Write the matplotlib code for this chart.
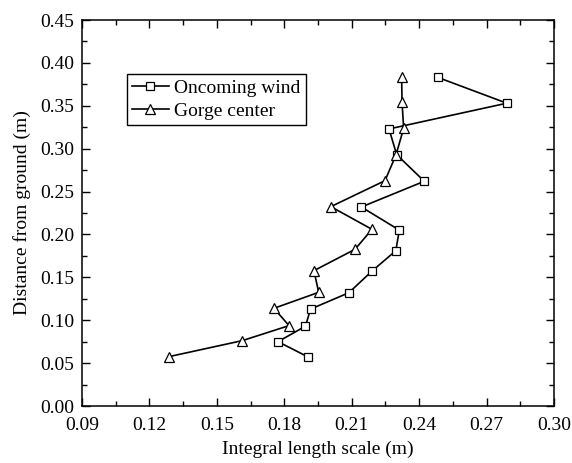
import matplotlib
matplotlib.use("Agg")
import matplotlib.pyplot as plt
from matplotlib.ticker import MultipleLocator

plt.rcParams['font.family'] = ['Liberation Serif', 'DejaVu Serif']
plt.rcParams['mathtext.fontset'] = 'stix'

oncoming_y = [0.057, 0.075, 0.093, 0.113, 0.132, 0.157, 0.181, 0.205, 0.232, 0.262, 0.293, 0.323, 0.353, 0.383]
oncoming_x = [0.1907, 0.1772, 0.1894, 0.1917, 0.2087, 0.2189, 0.2296, 0.2312, 0.2143, 0.2423, 0.2300, 0.2266, 0.2790, 0.2484]

gorge_y = [0.0575, 0.0762, 0.0937, 0.1139, 0.1325, 0.1578, 0.1827, 0.2060, 0.2324, 0.2627, 0.2926, 0.3237, 0.3540, 0.3840]
gorge_x = [0.1286, 0.1613, 0.1821, 0.1754, 0.1953, 0.1932, 0.2115, 0.2190, 0.2007, 0.2248, 0.2297, 0.2331, 0.2324, 0.2322]

xlabel = "Integral length scale (m)"
ylabel = "Distance from ground (m)"
labels = ["Oncoming wind", "Gorge center"]

fig = plt.figure(figsize=(5.72, 4.63), dpi=100)
ax = fig.add_axes([0.1434, 0.1231, 0.8251, 0.8337])

ax.plot(oncoming_x, oncoming_y, color='black', lw=1.2, marker='s', ms=5.5,
        mfc='white', mec='black', mew=0.9, label=labels[0])
ax.plot(gorge_x, gorge_y, color='black', lw=1.2, marker='^', ms=7,
        mfc='white', mec='black', mew=0.9, label=labels[1])

ax.set_xlim(0.09, 0.30)
ax.set_ylim(0.0, 0.45)
ax.xaxis.set_major_locator(MultipleLocator(0.03))
ax.xaxis.set_minor_locator(MultipleLocator(0.015))
ax.yaxis.set_major_locator(MultipleLocator(0.05))
ax.yaxis.set_minor_locator(MultipleLocator(0.025))
ax.xaxis.set_major_formatter(plt.FormatStrFormatter('%.2f'))
ax.yaxis.set_major_formatter(plt.FormatStrFormatter('%.2f'))

ax.tick_params(which='both', direction='in', top=True, right=True, labelsize=14, width=1)
ax.tick_params(which='major', length=6)
ax.tick_params(which='minor', length=3.5)
ax.tick_params(axis='x', which='major', pad=8)
ax.tick_params(axis='y', which='major', pad=5.5)
for s in ax.spines.values():
    s.set_linewidth(1.1)

ax.set_xlabel(xlabel, fontsize=14, labelpad=5)
ax.set_ylabel(ylabel, fontsize=14, labelpad=7)

leg = ax.legend(loc='upper left', bbox_to_anchor=(0.0947, 0.860), fontsize=14,
                frameon=True, fancybox=False, edgecolor='black', framealpha=1,
                handlelength=1.9, handletextpad=0.3, borderpad=0.25,
                labelspacing=0.3, borderaxespad=0)
leg.get_frame().set_linewidth(1.0)

fig.savefig("out.png", dpi=100)
